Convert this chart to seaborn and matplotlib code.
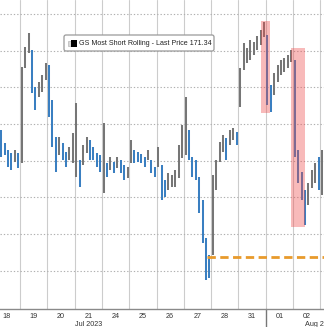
import numpy as np
import pandas as pd
import matplotlib
matplotlib.use("Agg")
import matplotlib.pyplot as plt
import seaborn as sns
from matplotlib.patches import Rectangle, FancyBboxPatch

# ---------------- data ----------------
day_labels = ["18", "19", "20", "21", "24", "25", "26", "27", "28", "31", "01", "02", "03"]

# intraday bar highs / lows per trading day
day_highs = [
    [173.41, 173.68, 173.68, 172.97, 172.59, 172.43, 172.59, 172.43],   # 18
    [177.11, 178.20, 178.96, 178.04, 176.02, 176.29, 176.68, 177.33],   # 19
    [177.22, 175.31, 173.30, 173.30, 172.97, 172.48, 172.75, 173.52],   # 20
    [175.15, 172.04, 172.86, 173.30, 173.13, 172.75, 172.43, 172.32],   # 21
    [174.06, 171.88, 172.21, 171.94, 172.21, 172.04, 171.77, 171.66],   # 24
    [173.13, 172.59, 172.48, 172.37, 172.21, 172.59, 172.04, 171.66],   # 25
    [172.75, 171.77, 170.95, 171.34, 171.23, 171.50, 172.86, 173.95],   # 26
    [175.48, 173.68, 172.21, 172.04, 171.12, 169.86, 167.79, 166.87],   # 27
    [171.23, 172.04, 173.03, 173.41, 173.24, 173.68, 173.79, 173.57],   # 28
    [177.06, 178.42, 178.15, 178.58, 178.47, 178.80, 179.13, 179.56],   # 31
    [178.86, 176.13, 176.79, 177.22, 177.49, 177.60, 177.77, 178.04],   # 01
    [177.49, 172.59, 171.39, 170.41, 170.79, 171.50, 171.88, 172.21],   # 02
    [172.59, 171.80],                                                   # 03
]
day_lows = [
    [172.59, 172.70, 172.21, 172.32, 171.66, 171.50, 171.94, 171.61],   # 18
    [171.88, 177.06, 177.88, 175.70, 174.77, 175.48, 175.75, 176.40],   # 19
    [174.39, 172.75, 171.39, 172.32, 172.04, 171.66, 172.04, 171.88],   # 20
    [171.12, 170.57, 171.77, 172.43, 172.04, 172.04, 171.66, 171.39],   # 21
    [170.25, 171.12, 171.50, 171.34, 171.61, 171.34, 170.95, 171.06],   # 24
    [171.88, 171.88, 171.94, 171.88, 171.66, 172.04, 171.34, 171.12],   # 25
    [171.66, 169.86, 170.03, 170.41, 170.57, 170.57, 171.06, 172.15],   # 26
    [172.32, 172.04, 171.12, 170.95, 169.16, 167.52, 165.50, 165.61],   # 27
    [166.87, 170.41, 171.94, 172.48, 172.04, 172.86, 173.13, 172.86],   # 28
    [174.93, 176.95, 177.33, 177.49, 177.77, 178.04, 178.31, 178.75],   # 31
    [175.04, 174.66, 175.59, 176.29, 176.68, 176.84, 177.06, 177.38],   # 01
    [172.21, 170.79, 169.86, 168.50, 169.59, 170.52, 170.79, 170.41],   # 02
    [170.14, 171.00],                                                   # 03
]
last_price = 171.34
series_name = "GS Most Short Rolling - Last Price"

# highlighted drops (position in trading-day units, price bounds)
hl_start = [9.83, 10.93]
hl_end = [10.16, 11.44]
hl_top = [179.62, 178.15]
hl_bottom = [174.61, 168.39]

# dashed orange reference level
ref_level = 166.76
ref_start = 7.85

month_labels = ["Jul 2023", "Aug 2023"]
month_pos = [3.5, 12.02]
month_break = 10
BARS_PER_DAY = 8

# ---------------- build table ----------------
rows = []
for k, (hs, ls) in enumerate(zip(day_highs, day_lows)):
    for j, (h, l) in enumerate(zip(hs, ls)):
        rows.append({"t": k + (j + 0.5) / BARS_PER_DAY, "high": h, "low": l})
df = pd.DataFrame(rows)
df["mid"] = (df["high"] + df["low"]) / 2
df["down"] = df["mid"].diff().fillna(0) < 0

# ---------------- figure ----------------
sns.set_theme(style="white")
plt.rcParams["font.family"] = ["Liberation Sans", "DejaVu Sans"]

W, H = 324, 327
fig = plt.figure(figsize=(W / 100, H / 100), dpi=100)
ax = fig.add_axes([0, 18 / H, 1, 309 / H])
ax.set_facecolor("white")

x0, x1 = 0.267, 12.135
ax.set_xlim(x0, x1)
ax.set_ylim(163.92, 180.76)

# grid
ax.set_yticks(np.arange(166, 181, 2))
ax.yaxis.grid(True, linestyle=(0, (1.2, 1.8)), color="#b0b0b0", lw=0.8)
ax.set_xticks(np.arange(1, 13))
ax.xaxis.grid(True, linestyle="-", color="#cccccc", lw=0.8)
ax.set_xticks(np.arange(len(day_labels)) + 0.5, minor=True)
ax.set_xticklabels([], minor=False)
ax.set_xticklabels(day_labels, minor=True, fontsize=5.2, color="#333333")
ax.tick_params(axis="x", which="both", length=0, pad=2.8)
ax.set_yticklabels([])
ax.tick_params(axis="y", length=0)
for s in ["left", "right", "top"]:
    ax.spines[s].set_visible(False)
ax.spines["bottom"].set_color("#8a8a8a")
ax.spines["bottom"].set_linewidth(1.0)
ax.set_xlabel("")
ax.set_ylabel("")

# bars
up = df[~df["down"]]
dn = df[df["down"]]
ax.vlines(up["t"], up["low"], up["high"], color="#767676", lw=1.45, zorder=3)
ax.vlines(dn["t"], dn["low"], dn["high"], color="#3a7fc1", lw=1.45, zorder=3)

# highlight rectangles
for a, b, top, bot in zip(hl_start, hl_end, hl_top, hl_bottom):
    ax.add_patch(Rectangle((a, bot), b - a, top - bot, facecolor="#ef4a4a",
                           alpha=0.38, edgecolor="none", zorder=4))

# reference dashed line
ref_df = pd.DataFrame({"t": [ref_start, x1 + 1], "v": [ref_level, ref_level]})
sns.lineplot(data=ref_df, x="t", y="v", ax=ax, color="#e89a2c", lw=2.0,
             dashes=False, zorder=5)
ax.lines[-1].set_dashes((3.0, 1.6))
ax.set_xlim(x0, x1)
ax.set_xlabel("")
ax.set_ylabel("")

# month labels and separator
trans = ax.get_xaxis_transform()
for lab, pos in zip(month_labels, month_pos):
    ax.text(pos, -0.05, lab, transform=trans, ha="center", va="center",
            fontsize=5.2, color="#333333", clip_on=False)
ax.plot([month_break, month_break], [-0.06, 0.0], transform=trans,
        color="#777777", lw=1.0, clip_on=False)

# legend box
def fx(px):
    return px / W

def fy(py):
    return 1 - py / H

box = FancyBboxPatch((fx(64), fy(51)), fx(214) - fx(64), fy(35) - fy(51),
                     boxstyle="round,pad=0,rounding_size=0.006",
                     transform=fig.transFigure, facecolor="white",
                     edgecolor="#9a9a9a", lw=0.9, zorder=10)
fig.patches.append(box)
fig.add_artist(Rectangle((fx(67.5), fy(45.5)), fx(3), fy(41.5) - fy(45.5),
                         transform=fig.transFigure, facecolor="#d8d8d8",
                         edgecolor="#aaaaaa", lw=0.4, zorder=11))
fig.add_artist(Rectangle((fx(71), fy(47)), fx(6), fy(40) - fy(47),
                         transform=fig.transFigure, facecolor="black",
                         edgecolor="none", zorder=11))
fig.text(fx(79), fy(43.5), f"{series_name} {last_price:.2f}", fontsize=5.15,
         color="#222222", ha="left", va="center", zorder=12)

fig.savefig("out.png", dpi=100)
